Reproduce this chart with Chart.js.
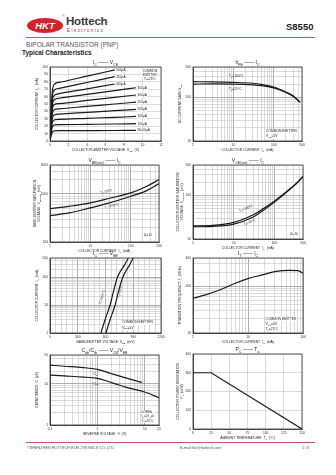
<!DOCTYPE html>
<html>
<head>
<meta charset="utf-8">
<script src="https://cdn.jsdelivr.net/npm/chart.js@4.4.1/dist/chart.umd.min.js"></script>
<style>
  body { margin: 0; width: 336px; height: 475px; background: #fff; position: relative; overflow: hidden; font-family: "Liberation Sans", Arial, sans-serif; }
  .abs { position: absolute; white-space: nowrap; }
  canvas { position: absolute; }
</style>
</head>
<body>
<div class="abs" style="left:27px;top:18px;width:36px;height:15px;border-radius:50%;background:#d8222b;color:#fff;font:bold italic 9.5px 'Liberation Sans';text-align:center;line-height:15px;">HKT</div>
<div class="abs" style="left:62px;top:14px;font-size:3.5px;color:#555;">®</div>
<div class="abs" style="left:66px;top:15px;font:bold 11.5px 'Liberation Sans';color:#3a3a3a;letter-spacing:-0.2px;">Hottech</div>
<div class="abs" style="left:67px;top:28px;font-size:4.5px;color:#c8202a;letter-spacing:1.4px;">Electronics</div>
<div class="abs" style="left:286px;top:21px;font:bold 9.5px 'Liberation Sans';color:#222;">S8550</div>
<div class="abs" style="left:26px;top:37px;width:289px;height:1px;background:#c9566e;"></div>
<div class="abs" style="left:26px;top:41px;font-size:6.6px;color:#555;">BIPOLAR TRANSISTOR (PNP)</div>
<div class="abs" style="left:22px;top:49px;font:bold 6.4px 'Liberation Sans';color:#222;">Typical Characteristics</div>

<canvas id="c1"></canvas><canvas id="c2"></canvas>
<canvas id="c3"></canvas><canvas id="c4"></canvas>
<canvas id="c5"></canvas><canvas id="c6"></canvas>
<canvas id="c7"></canvas><canvas id="c8"></canvas>

<div class="abs" style="left:26px;top:442px;width:289px;height:1px;background:#c9566e;"></div>
<div class="abs" style="left:27px;top:446px;font-size:3.8px;color:#555;">©SHENZHEN HOTTECH ELECTRONICS CO.,LTD</div>
<div class="abs" style="left:180px;top:446px;font-size:3.8px;color:#555;">E-mail:hkt@hottech.com</div>
<div class="abs" style="left:302px;top:446px;font-size:3.8px;color:#555;">1 / 8</div>

<script>
// Ic - Vce
const vce = [0, 0.1, 0.25, 0.5, 1, 4, 7, 9.3];
const ibLabels = ["500µA", "450µA", "400µA", "350µA", "300µA", "250µA", "200µA", "150µA", "100µA", "IB=50µA"];
const icByIb = [
  [0, 32, 66, 77, 79.3, 87.6, 96, null],
  [0, 28, 60, 69, 71.2, 79.1, 87, null],
  [0, 25, 54, 62, 64, 70.5, 77, null],
  [0, 23, 49, 56, 57.8, 62.9, 68, 72],
  [0, 20, 43, 49.5, 50.6, 54.8, 59, 62.2],
  [0, 17, 37, 42.5, 43.5, 46.8, 50, 52.5],
  [0, 14, 31, 35.5, 36.4, 38.7, 41, 42.8],
  [0, 11.5, 25, 28.7, 29.2, 30.6, 32, 33.2],
  [0, 9, 19, 21.8, 22, 22.5, 23, 23.4],
  [0, 6, 12, 13.8, 14, 14.1, 14.2, 14.3],
];

// hFE - Ic
const hfeIc = [1, 3, 10, 30, 50, 100, 200, 300, 450];
const hfe100 = [230, 228, 222, 212, 199, 173, 133, 110, 78];
const hfe25 = [203, 204, 203, 195, 186, 166, 130, 107, 77];

// VBE(sat) - Ic
const vbeSatIc = [1, 3, 10, 30, 100, 250, 500];
const vbeSat25 = [495, 553, 650, 812, 1050, 1445, 1990];
const vbeSat100 = [354, 402, 512, 650, 894, 1173, 1640];

// VCE(sat) - Ic
const vceSatIc = [1, 3, 10, 30, 50, 100, 200, 350, 500];
const vceSat100 = [20, 20.5, 24, 36, 48, 75, 124, 192, 272];
const vceSat25 = [19, 19.5, 22, 32, 44, 71, 120, 190, 270];

// Ic - VBE
const vbeIc = [1, 3, 10, 30, 100, 300, 500];
const vbe100 = [551, 595, 649, 685, 728, 811, 847];
const vbe25 = [605, 649, 703, 739, 786, 865, 900];

// fT - Ic
const ftIc = [1, 1.75, 3.2, 5.7, 10, 18.7, 32.6, 57, 81, 100];
const ft = [55, 66, 85, 114, 145, 176, 207, 217, 214, 190];

// Cob / Cib - VR
const vrCib = [0.1, 0.2, 0.5, 1, 2, 4.3, 8.7];
const cib = [28.4, 26.7, 24.8, 22.3, 17.5, 13.5, 10.8];
const vrCob = [0.1, 0.2, 0.5, 1, 2, 4.3, 9.6, 20];
const cob = [16.2, 15.5, 14.6, 13.5, 10.7, 8.1, 6.4, 4.6];

// Pc - Ta
const pcTa = [0, 25, 150];
const pc = [300, 300, 0];

const FONT = "'Liberation Sans', Arial, sans-serif";
const L = 22, T = 10, R = 6, B = 14;

function steps(a, b, s) {
  const out = [];
  for (let v = a; v <= b + 1e-9; v += s) out.push(+v.toFixed(6));
  return out;
}
function logGrid(a, b) {
  const out = [];
  for (let e = -2; e <= 4; e++)
    for (let k = 1; k < 10; k++) {
      const v = +(k * Math.pow(10, e)).toPrecision(6);
      if (v >= a - 1e-9 && v <= b + 1e-9) out.push(v);
    }
  return out;
}
function decades(a, b) {
  return logGrid(a, b).filter(v => Math.abs(Math.log10(v) - Math.round(Math.log10(v))) < 1e-9);
}
const near = (list, v) => list.some(l => Math.abs(l - v) < 1e-9);

function place(id, box) {
  const c = document.getElementById(id);
  c.width = box[2] + L + R;
  c.height = box[3] + T + B;
  c.style.left = box[0] - L + "px";
  c.style.top = box[1] - T + "px";
  return c.getContext("2d");
}

function scale(type, min, max, grid, labels, dark, horizontal) {
  return {
    type, min, max,
    afterBuildTicks: s => { s.ticks = grid.map(v => ({ value: v })); },
    afterFit: s => { if (horizontal) s.height = B; else s.width = L; },
    ticks: {
      autoSkip: false, maxRotation: 0, padding: 2,
      font: { size: 3.3, family: FONT }, color: "#333",
      callback: v => (near(labels, v) ? String(v) : ""),
    },
    grid: {
      drawTicks: false, lineWidth: 0.6,
      color: c => (c.tick && near(dark, c.tick.value) ? "#7a7a7a" : "#c2c2c2"),
    },
    border: { color: "#333", width: 0.8 },
  };
}

function series(xs, ys, smooth = true) {
  return {
    data: xs.map((x, i) => ({ x, y: ys[i] })).filter(p => p.y != null),
    borderColor: "#1a1a1a", borderWidth: 1.2, pointRadius: 0, fill: false,
    cubicInterpolationMode: smooth ? "monotone" : "default", tension: 0,
  };
}

function rich(ctx, str, x, y, size, align, bg) {
  const parts = [];
  str.replace(/_\{([^}]*)\}|([^_]+)/g, (m, sub, txt) => {
    parts.push(sub !== undefined ? { t: sub, s: size * 0.72, dy: size * 0.3 } : { t: txt, s: size, dy: 0 });
    return m;
  });
  let w = 0;
  parts.forEach(p => { ctx.font = p.s + "px " + FONT; p.w = ctx.measureText(p.t).width; w += p.w; });
  let cx = align === "center" ? x - w / 2 : align === "right" ? x - w : x;
  if (bg) {
    const fill = ctx.fillStyle;
    ctx.fillStyle = "#fff";
    ctx.fillRect(cx - 0.5, y - size * 0.6, w + 1, size * 1.3);
    ctx.fillStyle = fill;
  }
  ctx.textAlign = "left";
  ctx.textBaseline = "middle";
  parts.forEach(p => { ctx.font = p.s + "px " + FONT; ctx.fillText(p.t, cx, y + p.dy); cx += p.w; });
}

function textPlugin(spec) {
  return {
    id: "texts",
    afterDraw(chart) {
      const ctx = chart.ctx, a = chart.chartArea;
      const w = a.right - a.left, h = a.bottom - a.top;
      ctx.save();
      ctx.strokeStyle = "#333";
      ctx.lineWidth = 0.8;
      ctx.strokeRect(a.left, a.top, w, h);
      ctx.fillStyle = "#222";
      rich(ctx, spec.title, a.left + w / 2, a.top - 4, 5, "center");
      rich(ctx, spec.xTitle, a.left + w / 2, a.bottom + 9, 3.4, "center");
      spec.yTitle.forEach((t, i, arr) => {
        ctx.save();
        ctx.translate(a.left - 13 - (arr.length - 1) * 2 + i * 4, a.top + h / 2);
        ctx.rotate(-Math.PI / 2);
        rich(ctx, t, 0, 0, 3.4, "center");
        ctx.restore();
      });
      (spec.endLabels || []).forEach((t, i) => {
        const pts = chart.getDatasetMeta(i).data;
        const p = pts[pts.length - 1];
        rich(ctx, t, p.x + 1.5, p.y, 3.2, "left", true);
      });
      (spec.notes || []).forEach(n => {
        ctx.save();
        ctx.translate(a.left + n.fx * w, a.top + n.fy * h);
        if (n.rot) ctx.rotate(n.rot);
        rich(ctx, n.text, 0, 0, n.size || 3.3, n.align || "left", n.bg);
        ctx.restore();
      });
      ctx.restore();
    },
  };
}

function options(x, y) {
  return {
    responsive: false, animation: false, devicePixelRatio: 1,
    layout: { padding: { top: T, right: R, left: 0, bottom: 0 } },
    plugins: { legend: { display: false }, tooltip: { enabled: false } },
    scales: { x, y },
  };
}

// Ic - Vce static characteristic
new Chart(place("c1", [50, 67, 111, 74]), {
  type: "line",
  data: { datasets: icByIb.map(ys => series(vce, ys)) },
  options: options(
    scale("linear", 0, 12, steps(0, 12, 2), steps(0, 12, 2), [], true),
    scale("linear", 0, 100, steps(0, 100, 10), steps(0, 100, 10), [], false)
  ),
  plugins: [textPlugin({
    title: "I_{C} —— V_{CE}",
    xTitle: "COLLECTOR-EMITTER VOLTAGE  V_{CE}  (V)",
    yTitle: ["COLLECTOR CURRENT  I_{C}  (mA)"],
    endLabels: ibLabels,
    notes: [
      { fx: 0.9, fy: 0.06, text: "COMMON", align: "center", bg: true, size: 3.1 },
      { fx: 0.9, fy: 0.11, text: "EMITTER", align: "center", bg: true, size: 3.1 },
      { fx: 0.9, fy: 0.16, text: "T_{a}=25°C", align: "center", bg: true, size: 3.1 },
    ],
  })],
});

// hFE - Ic
new Chart(place("c2", [193, 67, 109, 74]), {
  type: "line",
  data: { datasets: [series(hfeIc, hfe100), series(hfeIc, hfe25)] },
  options: options(
    scale("logarithmic", 1, 500, logGrid(1, 500), [1, 10, 100, 500], decades(1, 500), true),
    scale("logarithmic", 10, 500, logGrid(10, 500), [10, 100, 500], decades(10, 500), false)
  ),
  plugins: [textPlugin({
    title: "h_{FE} —— I_{C}",
    xTitle: "COLLECTOR CURRENT  I_{C}  (mA)",
    yTitle: ["DC CURRENT GAIN  h_{FE}"],
    notes: [
      { fx: 0.33, fy: 0.12, text: "T_{a}=100°C" },
      { fx: 0.33, fy: 0.3, text: "T_{a}=25°C" },
      { fx: 0.67, fy: 0.87, text: "COMMON EMITTER", bg: true },
      { fx: 0.67, fy: 0.94, text: "V_{CE}=1V", bg: true },
    ],
  })],
});

// VBE(sat) - Ic
new Chart(place("c3", [50, 165, 109, 77]), {
  type: "line",
  data: { datasets: [series(vbeSatIc, vbeSat25), series(vbeSatIc, vbeSat100)] },
  options: options(
    scale("logarithmic", 1, 500, logGrid(1, 500), [1, 10, 100, 500], decades(1, 500), true),
    scale("logarithmic", 100, 4000, logGrid(100, 4000), [100, 1000, 4000], decades(100, 4000), false)
  ),
  plugins: [textPlugin({
    title: "V_{BE(sat)} —— I_{C}",
    xTitle: "COLLECTOR CURRENT  I_{C}  (mA)",
    yTitle: ["BASE-EMITTER SATURATION", "VOLTAGE  V_{BE(sat)}  (mV)"],
    notes: [
      { fx: 0.46, fy: 0.36, text: "T_{a}=25°C", rot: -0.2 },
      { fx: 0.5, fy: 0.55, text: "T_{a}=100°C", rot: -0.2 },
      { fx: 0.9, fy: 0.91, text: "β=10", align: "center", bg: true },
    ],
  })],
});

// VCE(sat) - Ic
new Chart(place("c4", [193, 165, 110, 74]), {
  type: "line",
  data: { datasets: [series(vceSatIc, vceSat100), series(vceSatIc, vceSat25)] },
  options: options(
    scale("logarithmic", 1, 500, logGrid(1, 500), [1, 10, 100, 500], decades(1, 500), true),
    scale("logarithmic", 10, 500, logGrid(10, 500), [10, 100, 500], decades(10, 500), false)
  ),
  plugins: [textPlugin({
    title: "V_{CE(sat)} —— I_{C}",
    xTitle: "COLLECTOR CURRENT  I_{C}  (mA)",
    yTitle: ["COLLECTOR-EMITTER SATURATION", "VOLTAGE  V_{CE(sat)}  (mV)"],
    notes: [
      { fx: 0.42, fy: 0.62, text: "T_{a}=100°C", rot: -0.35 },
      { fx: 0.46, fy: 0.8, text: "T_{a}=25°C", rot: -0.35 },
      { fx: 0.92, fy: 0.93, text: "β=10", align: "center", bg: true },
    ],
  })],
});

// Ic - VBE
new Chart(place("c5", [50, 258, 111, 75]), {
  type: "line",
  data: { datasets: [series(vbe100, vbeIc), series(vbe25, vbeIc)] },
  options: options(
    scale("linear", 0, 1200, steps(0, 1200, 60), steps(0, 1200, 300), steps(0, 1200, 300), true),
    scale("logarithmic", 1, 500, logGrid(1, 500), [1, 10, 100, 500], decades(1, 500), false)
  ),
  plugins: [textPlugin({
    title: "I_{C} —— V_{BE}",
    xTitle: "BASE-EMITTER VOLTAGE  V_{BE}  (mV)",
    yTitle: ["COLLECTOR CURRENT  I_{C}  (mA)"],
    notes: [
      { fx: 0.47, fy: 0.52, text: "T_{a}=100°C", rot: -1.3, align: "center" },
      { fx: 0.63, fy: 0.45, text: "T_{a}=25°C", rot: -1.3, align: "center" },
      { fx: 0.65, fy: 0.86, text: "COMMON EMITTER", bg: true },
      { fx: 0.65, fy: 0.93, text: "V_{CE}=1V", bg: true },
    ],
  })],
});

// fT - Ic
new Chart(place("c6", [193, 258, 110, 75]), {
  type: "line",
  data: { datasets: [series(ftIc, ft)] },
  options: options(
    scale("logarithmic", 1, 100, logGrid(1, 100), [1, 10, 100], decades(1, 100), true),
    scale("logarithmic", 10, 400, logGrid(10, 400), [10, 100, 400], decades(10, 400), false)
  ),
  plugins: [textPlugin({
    title: "f_{T} —— I_{C}",
    xTitle: "COLLECTOR CURRENT  I_{C}  (mA)",
    yTitle: ["TRANSITION FREQUENCY  f_{T}  (MHz)"],
    notes: [
      { fx: 0.66, fy: 0.81, text: "COMMON EMITTER", bg: true },
      { fx: 0.66, fy: 0.88, text: "V_{CE}=6V", bg: true },
      { fx: 0.66, fy: 0.95, text: "T_{a}=25°C", bg: true },
    ],
  })],
});

// Cob / Cib - VR
new Chart(place("c7", [50, 355, 109, 70]), {
  type: "line",
  data: { datasets: [series(vrCib, cib), series(vrCob, cob)] },
  options: options(
    scale("logarithmic", 0.1, 20, logGrid(0.1, 20), [0.1, 1, 10, 20], decades(0.1, 20), true),
    scale("logarithmic", 1, 50, logGrid(1, 50), [1, 10, 50], decades(1, 50), false)
  ),
  plugins: [textPlugin({
    title: "C_{ob}/C_{ib} —— V_{CB}/V_{EB}",
    xTitle: "REVERSE VOLTAGE  V  (V)",
    yTitle: ["CAPACITANCE  C  (pF)"],
    notes: [
      { fx: 0.4, fy: 0.27, text: "C_{ib}" },
      { fx: 0.4, fy: 0.41, text: "C_{ob}" },
      { fx: 0.84, fy: 0.82, text: "f=1MHz", bg: true, size: 3.1 },
      { fx: 0.84, fy: 0.88, text: "I_{E}=0 I_{C}=0", bg: true, size: 3.1 },
      { fx: 0.84, fy: 0.94, text: "T_{a}=25°C", bg: true, size: 3.1 },
    ],
  })],
});

// Pc - Ta
new Chart(place("c8", [193, 354, 109, 75]), {
  type: "line",
  data: { datasets: [series(pcTa, pc, false)] },
  options: options(
    scale("linear", 0, 150, steps(0, 150, 25), steps(0, 150, 25), [], true),
    scale("linear", 0, 400, steps(0, 400, 100), steps(0, 400, 100), [], false)
  ),
  plugins: [textPlugin({
    title: "P_{C} —— T_{a}",
    xTitle: "AMBIENT TEMPERATURE  T_{a}  (°C)",
    yTitle: ["COLLECTOR POWER DISSIPATION", "P_{C}  (mW)"],
  })],
});
</script>
</body>
</html>
